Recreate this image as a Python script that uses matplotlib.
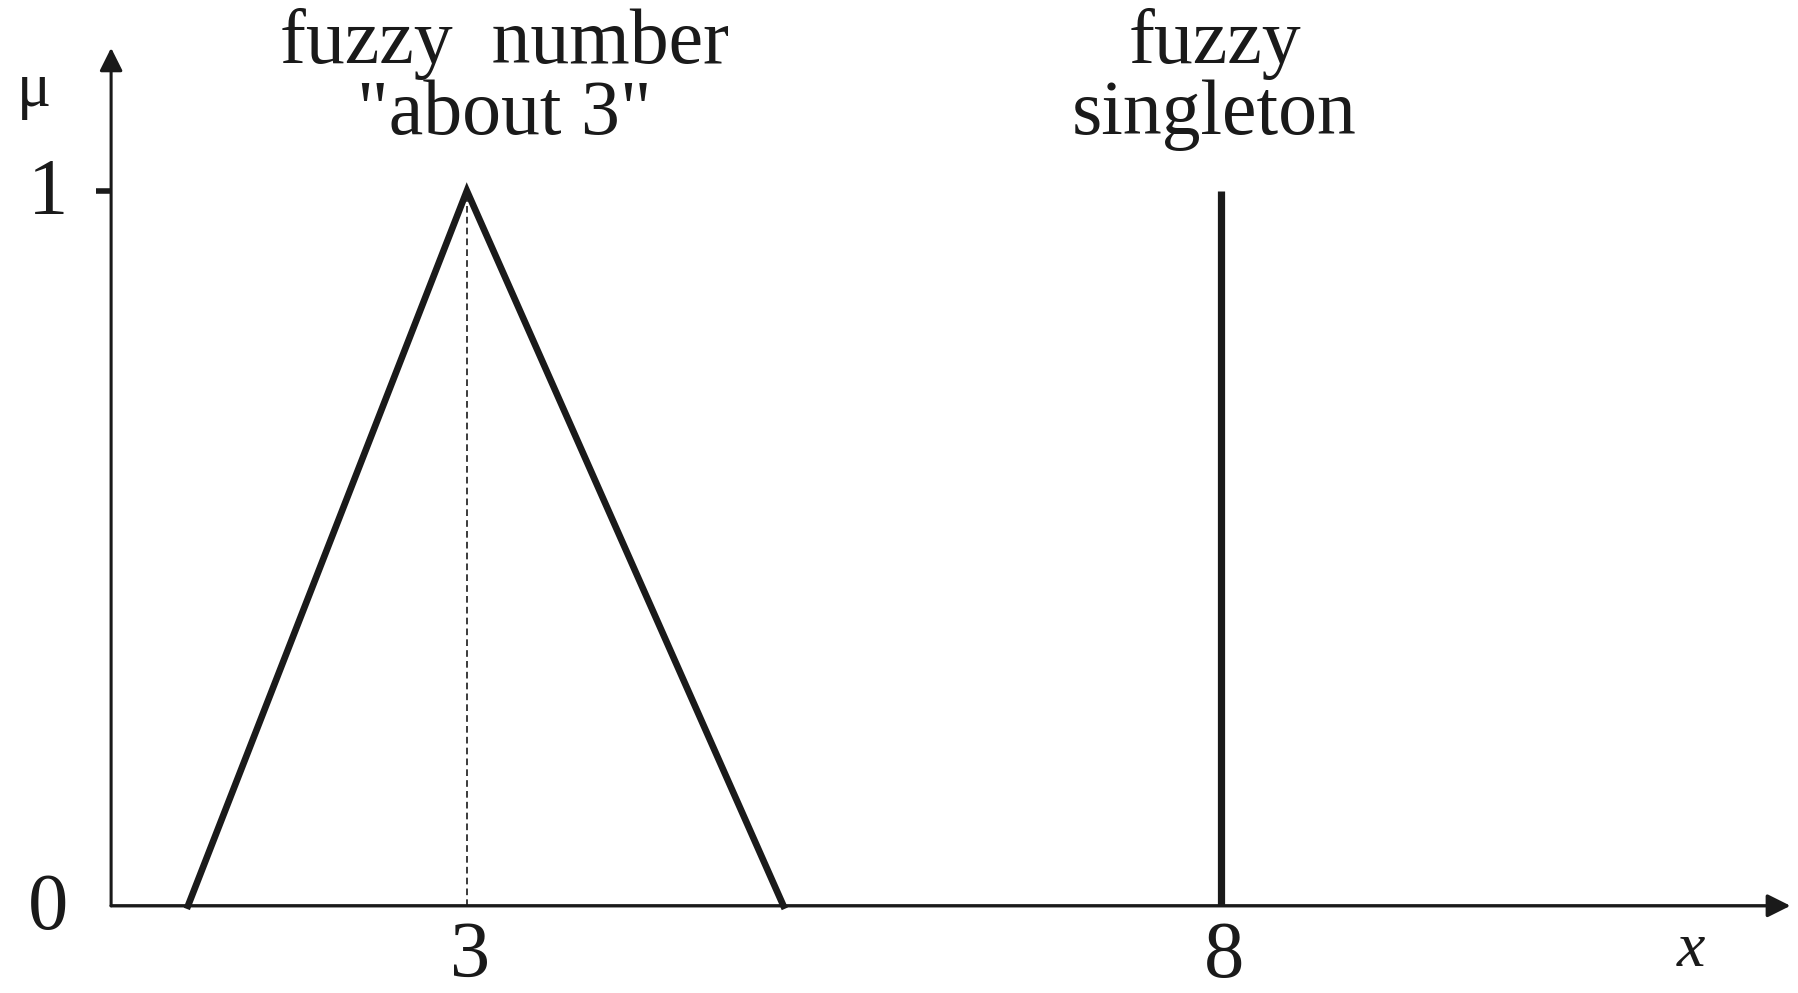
import numpy as np
import matplotlib.pyplot as plt

# membership function of the fuzzy number "about 3"
tri_x = [1.15, 3.0, 5.1]
tri_mu = [0.0, 1.0, 0.0]

# fuzzy singleton at x = 8
single_x = 8.0
single_mu = 1.0

x_ticks = [3, 8]
y_ticks = [0, 1]

plt.rcParams['font.family'] = ['Liberation Serif', 'DejaVu Serif']
ink = '#1a1a1a'

fig = plt.figure(figsize=(17.98, 9.93), dpi=100)
ax = fig.add_axes([0, 0, 1, 1])
ax.set_xlim(-0.097, 11.83)
ax.set_ylim(-0.122, 1.267)
ax.axis('off')

# axes with arrow heads
x0, x1 = 0.64, 11.78
ax.annotate('', xy=(x1, 0), xytext=(x0, 0),
            arrowprops=dict(arrowstyle='-|>', lw=2.4, color=ink, mutation_scale=35,
                            shrinkA=0, shrinkB=0))
ax.annotate('', xy=(x0, 1.2), xytext=(x0, 0),
            arrowprops=dict(arrowstyle='-|>', lw=2.2, color=ink, mutation_scale=35,
                            shrinkA=0, shrinkB=0))
ax.plot([x0 - 0.1, x0], [1, 1], color=ink, lw=4, solid_capstyle='butt')

# triangle and singleton
ax.plot(tri_x, tri_mu, color=ink, lw=4.8, solid_joinstyle='miter')
ax.plot([tri_x[1], tri_x[1]], [0, 1], color=ink, lw=1.2, ls=(0, (4, 2.5)))
ax.plot([single_x, single_x], [0, single_mu], color=ink, lw=5.2, solid_capstyle='butt')

# tick labels
for t in x_ticks:
    ax.text(t + 0.02, -0.1, str(t), ha='center', va='baseline', fontsize=58, color=ink)
for t in y_ticks:
    ax.text(0.22, t - 0.005, str(t), ha='center', va='center', fontsize=58, color=ink)
ax.text(11.12, -0.063, 'x', ha='center', va='center', fontsize=46, style='italic', color=ink)
ax.text(0.13, 1.14, 'μ', ha='center', va='center', fontsize=46, color=ink)

# annotations
ax.text(3.25, 1.179, 'fuzzy  number', ha='center', va='baseline', fontsize=56, color=ink)
ax.text(3.25, 1.08, '"about 3"', ha='center', va='baseline', fontsize=56, color=ink)
ax.text(7.96, 1.179, 'fuzzy', ha='center', va='baseline', fontsize=56, color=ink)
ax.text(7.96, 1.08, 'singleton', ha='center', va='baseline', fontsize=56, color=ink)

plt.savefig('out.png', dpi=100, facecolor='white')
